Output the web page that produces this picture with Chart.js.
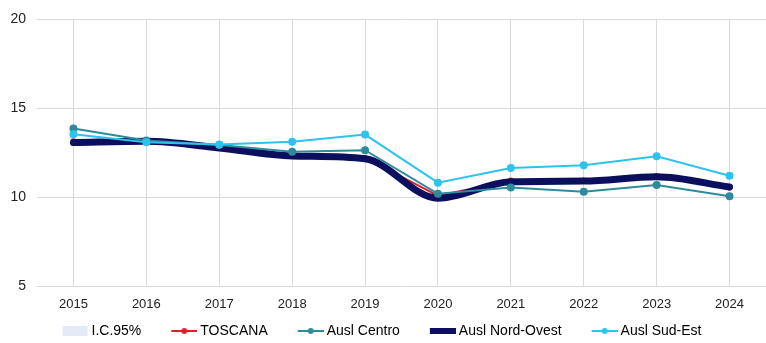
<!DOCTYPE html>
<html>
<head>
<meta charset="utf-8">
<script src="https://cdn.jsdelivr.net/npm/chart.js@4/dist/chart.umd.min.js"></script>
<style>
  body { margin: 0; background: #fff; overflow: hidden; }
  #wrap { width: 772px; height: 348px; }
</style>
</head>
<body>
<div id="wrap"><canvas id="myChart"></canvas></div>
<script>
'use strict';

let years = ['2015', '2016', '2017', '2018', '2019', '2020', '2021', '2022', '2023', '2024'];
let toscana = [13.15, 13.15, 12.8, 12.38, 12.22, 10.1, 10.95, 10.95, 11.2, 10.55];
let auslCentro = [13.87, 13.2, 12.95, 12.57, 12.65, 10.2, 10.55, 10.32, 10.69, 10.07];
let auslNordOvest = [13.08, 13.15, 12.78, 12.33, 12.17, 9.95, 10.88, 10.92, 11.16, 10.58];
let auslSudEst = [13.55, 13.1, 12.97, 13.12, 13.53, 10.83, 11.65, 11.8, 12.31, 11.22];
let icBand = [];
let yTicks = [5, 10, 15, 20];

let iconGap = 24;
let iconShift = 4;

// little pictures for the legend: line with a dot, or a plain bar
// the picture is wider than the legend box so the icon can sit closer to its text
function legendIcon(color, kind) {
  let c = document.createElement('canvas');
  c.width = 26 + iconGap + 2 * iconShift;
  c.height = 12;
  let ctx = c.getContext('2d');
  let x0 = iconGap + 2 * iconShift;
  if (kind === 'box') {
    ctx.fillStyle = color;
    ctx.fillRect(x0, 1, 25, 10);
  } else if (kind === 'bar') {
    ctx.fillStyle = color;
    ctx.fillRect(x0, 3, 26, 6);
  } else {
    ctx.strokeStyle = color;
    ctx.lineWidth = 2;
    ctx.beginPath();
    ctx.moveTo(x0, 6);
    ctx.lineTo(x0 + 26, 6);
    ctx.stroke();
    ctx.fillStyle = color;
    ctx.beginPath();
    ctx.arc(x0 + 13, 6, 3, 0, Math.PI * 2);
    ctx.fill();
  }
  return c;
}

let colIC = '#e3ebf7';
let colToscana = '#d9232a';
let colCentro = '#2f8a9c';
let colNord = '#0b0f5e';
let colSud = '#2ec3ec';

let icons = [
  legendIcon(colIC, 'box'),
  legendIcon(colToscana, 'line'),
  legendIcon(colCentro, 'line'),
  legendIcon(colNord, 'bar'),
  legendIcon(colSud, 'line')
];

const data = {
  labels: years,
  datasets: [
    {
      label: 'I.C.95%',
      data: icBand,
      backgroundColor: colIC,
      borderColor: colIC,
      pointRadius: 0,
      order: 5
    },
    {
      label: 'TOSCANA',
      data: toscana,
      borderColor: colToscana,
      backgroundColor: colToscana,
      borderWidth: 2,
      pointRadius: 2,
      order: 4
    },
    {
      label: 'Ausl Centro',
      data: auslCentro,
      borderColor: colCentro,
      backgroundColor: colCentro,
      borderWidth: 2,
      pointRadius: 3,
      order: 2
    },
    {
      label: 'Ausl Nord-Ovest',
      data: auslNordOvest,
      borderColor: colNord,
      backgroundColor: colNord,
      borderWidth: 7,
      borderCapStyle: 'round',
      pointRadius: 0,
      cubicInterpolationMode: 'monotone',
      order: 3
    },
    {
      label: 'Ausl Sud-Est',
      data: auslSudEst,
      borderColor: colSud,
      backgroundColor: colSud,
      borderWidth: 2,
      pointRadius: 3,
      order: 1
    }
  ]
};

const config = {
  type: 'line',
  data: data,
  options: {
    responsive: true,
    maintainAspectRatio: false,
    animation: false,
    layout: {
      // legend sits a bit left of the plot centre in the original
      padding: { left: -36, right: 0, top: 10, bottom: 0 }
    },
    scales: {
      x: {
        offset: true,
        grid: {
          offset: false,
          color: '#dadada',
          drawTicks: false
        },
        border: { display: false },
        ticks: {
          color: '#222',
          padding: 10,
          font: { family: 'Liberation Sans, Arial, sans-serif', size: 13 }
        }
      },
      y: {
        min: 5,
        max: 20,
        afterBuildTicks: function (axis) {
          axis.ticks = yTicks.map(v => ({ value: v }));
        },
        afterFit: function (axis) {
          axis.width = 73;
        },
        grid: {
          color: '#dadada',
          drawTicks: false
        },
        border: { display: false },
        ticks: {
          color: '#222',
          padding: 11,
          font: { family: 'Liberation Sans, Arial, sans-serif', size: 14 }
        }
      }
    },
    plugins: {
      tooltip: { enabled: false },
      legend: {
        position: 'bottom',
        labels: {
          usePointStyle: true,
          pointStyleWidth: 26 + iconGap,
          padding: 2,
          color: '#222',
          font: { family: 'Liberation Sans, Arial, sans-serif', size: 14 },
          generateLabels: function (chart) {
            return chart.data.datasets.map((ds, i) => ({
              text: ds.label,
              pointStyle: icons[i],
              fillStyle: ds.backgroundColor,
              strokeStyle: ds.borderColor,
              lineWidth: 0,
              hidden: false,
              datasetIndex: i
            }));
          }
        }
      }
    }
  }
};

const myChart = new Chart(document.getElementById('myChart'), config);
</script>
</body>
</html>
